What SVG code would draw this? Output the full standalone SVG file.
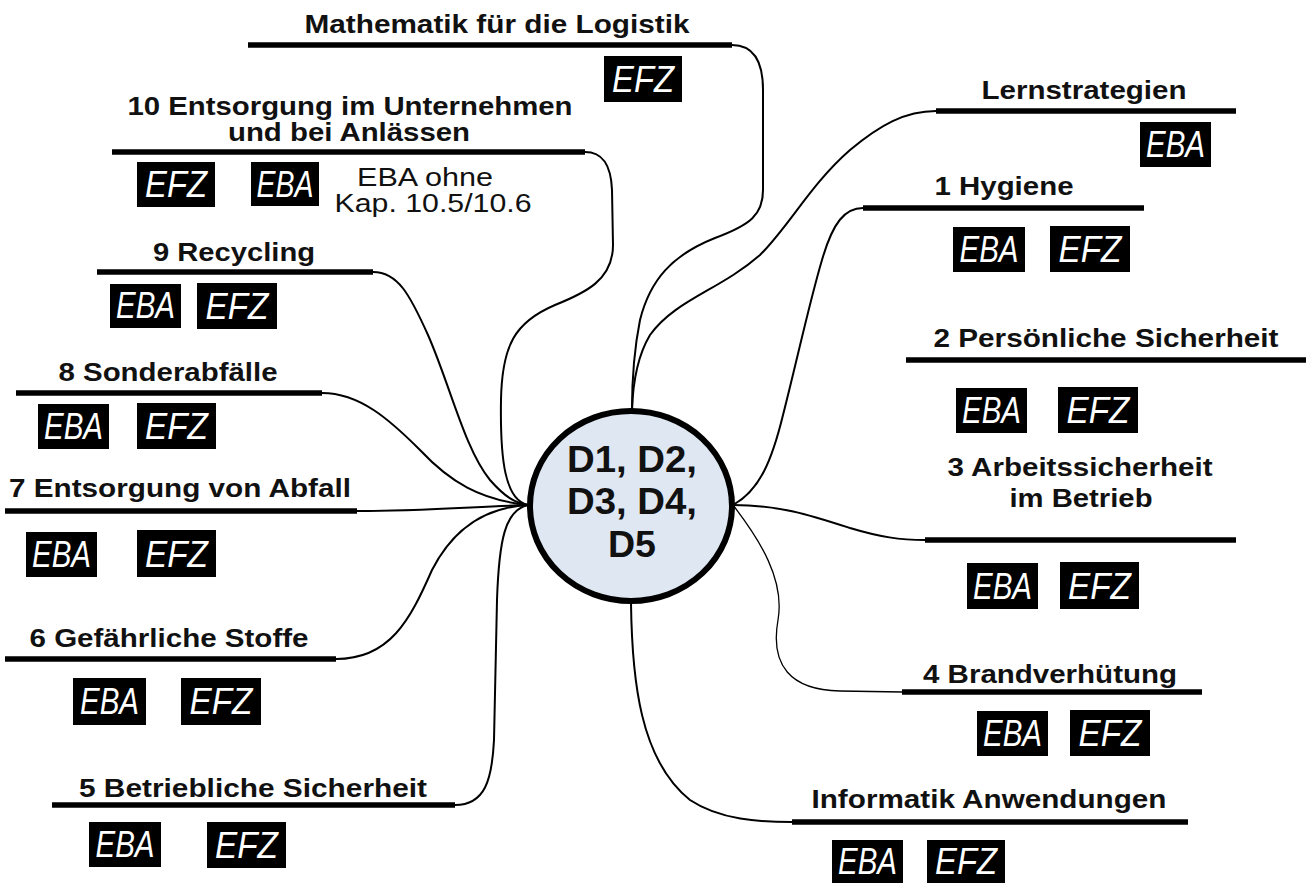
<svg xmlns="http://www.w3.org/2000/svg" width="1309" height="883" viewBox="0 0 1309 883">
<style>
.lbl{font-family:"Liberation Sans",Arial,sans-serif;font-weight:bold;font-size:25px;fill:#111;text-anchor:middle}
.note{font-family:"Liberation Sans",Arial,sans-serif;font-size:25px;fill:#111;text-anchor:middle}
.bar{stroke:#000;stroke-width:5.5;fill:none}
.badge{fill:#000}
.bt{font-family:"Liberation Sans",Arial,sans-serif;font-style:italic;font-size:36px;fill:#fff;text-anchor:middle}
.con{fill:none;stroke:#000;stroke-width:2}
.thin{fill:none;stroke:#000;stroke-width:1.3}
.ctext{font-family:"Liberation Sans",Arial,sans-serif;font-weight:bold;font-size:36px;fill:#111;text-anchor:middle}
</style>
<rect width="1309" height="883" fill="#fff"/>
<g id="connectors">
<path class="con" d="M732,45 C752,45 763,60 763,90 L763,190 C763,215 750,225 715,238 C672,255 650,280 640,320 C634,350 632,380 632,410"/>
<path class="con" d="M936,111 C905,111 880,125 850,150 C810,185 790,225 760,255 C720,290 675,300 650,335 C638,355 633,380 632,410"/>
<path class="con" d="M585,152 C603,152 611,165 612,190 L613,245 C613,280 585,293 555,305 C515,322 502,345 501,400 C500,460 505,500 528,505"/>
<path class="con" d="M863,208 C845,208 833,222 822,260 C810,300 797,360 783,415 C772,460 760,490 733,505"/>
<path class="con" d="M373,272 C398,272 410,295 428,335 C450,385 465,450 490,480 C505,497 515,503 528,505"/>
<path class="con" d="M322,393 C360,393 390,420 420,450 C450,482 480,500 528,505"/>
<path class="con" d="M357,511 C420,511 470,507 528,505"/>
<path class="con" d="M336,659 C390,659 410,620 432,570 C455,525 490,507 528,505"/>
<path class="con" d="M455,805 C485,805 492,780 494,740 L497,600 C499,540 505,510 528,505"/>
<path class="con" d="M733,505 C780,505 810,515 850,528 C880,537 900,540 925,540"/>
<path class="thin" d="M733,505 C760,540 785,580 778,620 C770,665 790,690 840,691 L902,692"/>
<path class="con" d="M631,603 C632,680 640,760 690,800 C720,820 760,822 792,822"/>
</g>
<g id="center">
<ellipse cx="631" cy="506" rx="101" ry="95" fill="#dfe7f2" stroke="#000" stroke-width="6"/>
<text class="ctext" x="632" y="472" textLength="130" lengthAdjust="spacingAndGlyphs">D1, D2,</text>
<text class="ctext" x="632" y="514" textLength="130" lengthAdjust="spacingAndGlyphs">D3, D4,</text>
<text class="ctext" x="632" y="557" textLength="48" lengthAdjust="spacingAndGlyphs">D5</text>
</g>
<g id="node-mathematik">
<text class="lbl" x="497" y="33" textLength="385" lengthAdjust="spacingAndGlyphs">Mathematik für die Logistik</text>
<line class="bar" x1="248" y1="45" x2="732" y2="45"/>
<rect class="badge" x="604" y="56" width="78" height="46"/><text class="bt" x="643" y="92" textLength="62" lengthAdjust="spacingAndGlyphs">EFZ</text>
</g>
<g id="node-lernstrategien">
<text class="lbl" x="1084" y="99" textLength="205" lengthAdjust="spacingAndGlyphs">Lernstrategien</text>
<line class="bar" x1="936" y1="111" x2="1236" y2="111"/>
<rect class="badge" x="1140" y="122" width="71" height="45"/><text class="bt" x="1175.5" y="157" textLength="59" lengthAdjust="spacingAndGlyphs">EBA</text>
</g>
<g id="node-10">
<text class="lbl" x="350" y="115" textLength="445" lengthAdjust="spacingAndGlyphs">10 Entsorgung im Unternehmen</text>
<text class="lbl" x="349" y="141" textLength="242" lengthAdjust="spacingAndGlyphs">und bei Anlässen</text>
<line class="bar" x1="112" y1="152" x2="585" y2="152"/>
<rect class="badge" x="137" y="162" width="78" height="45"/><text class="bt" x="176" y="197" textLength="62" lengthAdjust="spacingAndGlyphs">EFZ</text>
<rect class="badge" x="251" y="162" width="68" height="44"/><text class="bt" x="285" y="197" textLength="57" lengthAdjust="spacingAndGlyphs">EBA</text>
<text class="note" x="425" y="186" textLength="136" lengthAdjust="spacingAndGlyphs">EBA ohne</text>
<text class="note" x="433" y="212" textLength="197" lengthAdjust="spacingAndGlyphs">Kap. 10.5/10.6</text>
</g>
<g id="node-1">
<text class="lbl" x="1004" y="195" textLength="139" lengthAdjust="spacingAndGlyphs">1 Hygiene</text>
<line class="bar" x1="863" y1="208" x2="1144" y2="208"/>
<rect class="badge" x="953" y="227" width="72" height="45"/><text class="bt" x="989" y="262" textLength="59" lengthAdjust="spacingAndGlyphs">EBA</text>
<rect class="badge" x="1050" y="226" width="80" height="46"/><text class="bt" x="1090" y="262" textLength="63" lengthAdjust="spacingAndGlyphs">EFZ</text>
</g>
<g id="node-9">
<text class="lbl" x="234" y="261" textLength="162" lengthAdjust="spacingAndGlyphs">9 Recycling</text>
<line class="bar" x1="97" y1="272" x2="373" y2="272"/>
<rect class="badge" x="110" y="284" width="71" height="44"/><text class="bt" x="145.5" y="318" textLength="59" lengthAdjust="spacingAndGlyphs">EBA</text>
<rect class="badge" x="197" y="283" width="80" height="46"/><text class="bt" x="237" y="319" textLength="63" lengthAdjust="spacingAndGlyphs">EFZ</text>
</g>
<g id="node-2">
<text class="lbl" x="1106" y="347" textLength="345" lengthAdjust="spacingAndGlyphs">2 Persönliche Sicherheit</text>
<line class="bar" x1="906" y1="360" x2="1306" y2="360"/>
<rect class="badge" x="956" y="388" width="71" height="45"/><text class="bt" x="991.5" y="423" textLength="59" lengthAdjust="spacingAndGlyphs">EBA</text>
<rect class="badge" x="1058" y="387" width="80" height="46"/><text class="bt" x="1098" y="423" textLength="63" lengthAdjust="spacingAndGlyphs">EFZ</text>
</g>
<g id="node-8">
<text class="lbl" x="168" y="381" textLength="219" lengthAdjust="spacingAndGlyphs">8 Sonderabfälle</text>
<line class="bar" x1="16" y1="393" x2="322" y2="393"/>
<rect class="badge" x="38" y="404" width="71" height="45"/><text class="bt" x="73.5" y="439" textLength="59" lengthAdjust="spacingAndGlyphs">EBA</text>
<rect class="badge" x="137" y="403" width="79" height="46"/><text class="bt" x="176.5" y="439" textLength="63" lengthAdjust="spacingAndGlyphs">EFZ</text>
</g>
<g id="node-3">
<text class="lbl" x="1080" y="476" textLength="265" lengthAdjust="spacingAndGlyphs">3 Arbeitssicherheit</text>
<text class="lbl" x="1081" y="507" textLength="143" lengthAdjust="spacingAndGlyphs">im Betrieb</text>
<line class="bar" x1="925" y1="540" x2="1236" y2="540"/>
<rect class="badge" x="967" y="563" width="71" height="46"/><text class="bt" x="1002.5" y="599" textLength="59" lengthAdjust="spacingAndGlyphs">EBA</text>
<rect class="badge" x="1060" y="562" width="79" height="47"/><text class="bt" x="1099.5" y="599" textLength="63" lengthAdjust="spacingAndGlyphs">EFZ</text>
</g>
<g id="node-7">
<text class="lbl" x="180" y="497" textLength="342" lengthAdjust="spacingAndGlyphs">7 Entsorgung von Abfall</text>
<line class="bar" x1="5" y1="511" x2="357" y2="511"/>
<rect class="badge" x="26" y="532" width="71" height="45"/><text class="bt" x="61.5" y="567" textLength="59" lengthAdjust="spacingAndGlyphs">EBA</text>
<rect class="badge" x="137" y="530" width="79" height="47"/><text class="bt" x="176.5" y="567" textLength="63" lengthAdjust="spacingAndGlyphs">EFZ</text>
</g>
<g id="node-6">
<text class="lbl" x="169" y="647" textLength="279" lengthAdjust="spacingAndGlyphs">6 Gefährliche Stoffe</text>
<line class="bar" x1="5" y1="659" x2="336" y2="659"/>
<rect class="badge" x="73" y="678" width="73" height="47"/><text class="bt" x="109.5" y="714" textLength="59" lengthAdjust="spacingAndGlyphs">EBA</text>
<rect class="badge" x="181" y="678" width="80" height="47"/><text class="bt" x="221" y="714" textLength="63" lengthAdjust="spacingAndGlyphs">EFZ</text>
</g>
<g id="node-4">
<text class="lbl" x="1050" y="683" textLength="254" lengthAdjust="spacingAndGlyphs">4 Brandverhütung</text>
<line class="bar" x1="902" y1="692" x2="1202" y2="692"/>
<rect class="badge" x="977" y="711" width="71" height="45"/><text class="bt" x="1012.5" y="746" textLength="59" lengthAdjust="spacingAndGlyphs">EBA</text>
<rect class="badge" x="1070" y="710" width="80" height="46"/><text class="bt" x="1110" y="746" textLength="63" lengthAdjust="spacingAndGlyphs">EFZ</text>
</g>
<g id="node-5">
<text class="lbl" x="253" y="797" textLength="348" lengthAdjust="spacingAndGlyphs">5 Betriebliche Sicherheit</text>
<line class="bar" x1="52" y1="805" x2="455" y2="805"/>
<rect class="badge" x="89" y="822" width="72" height="45"/><text class="bt" x="125" y="857" textLength="59" lengthAdjust="spacingAndGlyphs">EBA</text>
<rect class="badge" x="207" y="822" width="79" height="46"/><text class="bt" x="246.5" y="858" textLength="63" lengthAdjust="spacingAndGlyphs">EFZ</text>
</g>
<g id="node-informatik">
<text class="lbl" x="989" y="808" textLength="355" lengthAdjust="spacingAndGlyphs">Informatik Anwendungen</text>
<line class="bar" x1="792" y1="822" x2="1188" y2="822"/>
<rect class="badge" x="832" y="840" width="71" height="43"/><text class="bt" x="867.5" y="874" textLength="59" lengthAdjust="spacingAndGlyphs">EBA</text>
<rect class="badge" x="927" y="840" width="78" height="43"/><text class="bt" x="966" y="874" textLength="62" lengthAdjust="spacingAndGlyphs">EFZ</text>
</g>
</svg>
